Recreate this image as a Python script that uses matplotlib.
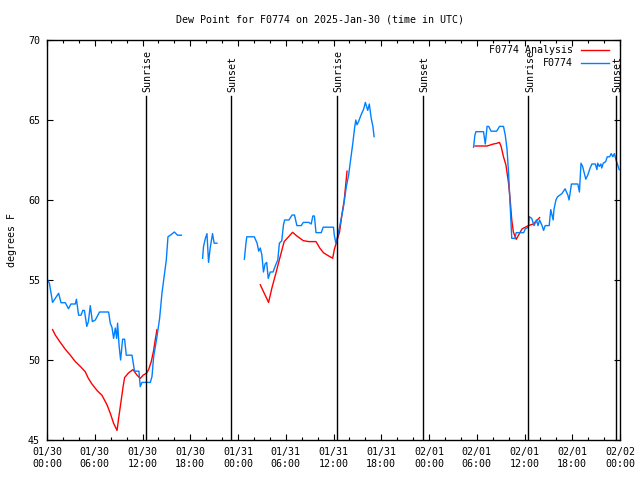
import numpy as np
import matplotlib
matplotlib.use("Agg")
import matplotlib.pyplot as plt
import matplotlib.ticker as ticker

# hours since 2025-01-30 00:00 UTC; nan marks a gap in the record
obs_hours = [0.08, 0.3, 0.5, 0.7, 1.04, 1.46, 1.76, 2.3, 2.7, 3.0, 3.56, 3.7,
             3.97, 4.27, 4.5, 4.7, 5.0, 5.2, 5.44, 5.7, 6.07, 6.28, 6.6, 7.74,
             7.95, 8.16, 8.37, 8.58, 8.75, 8.87, 9.05, 9.25, 9.5, 9.75, 9.96,
             10.68, 11.0, 11.55, 11.72, 11.93, 12.98, 13.19, 13.4, 13.82, 14.15,
             14.45, 14.74, 14.99, 15.2, 15.5, 16.0, 16.4, 16.9, np.nan,
             19.55, 19.67, 19.9, 20.1, 20.3, 20.5, 20.8, 21.0, 21.36, np.nan,
             24.8, 25.0, 25.1, 26.05, 26.4, 26.6, 26.8, 27.0, 27.2, 27.4, 27.6,
             27.8, 28.05, 28.4, 28.7, 29.0, 29.2, 29.5, 29.7, 29.85, 30.4, 30.8,
             31.1, 31.4, 31.95, 32.2, 32.9, 33.2, 33.4, 33.6, 33.8, 34.46, 34.7,
             36.0, 36.1, 36.3, 36.5, 36.76, 37.05, 37.26, 37.6, 37.9, 38.2,
             38.44, 38.65, 38.8, 38.95, 39.15, 39.45, 39.8, 40.0, 40.3, 40.5,
             40.74, 40.95, 41.1, np.nan,
             53.6, 53.77, 53.9, 54.85, 55.07, 55.3, 55.5, 55.8, 56.5, 56.86,
             57.36, 57.58, 57.8, 58.0, 58.2, 58.4, 58.8, 58.96, 59.9, 60.1, 60.5,
             60.6, 60.9, 61.2, 61.5, 61.7, 61.9, 62.2, 62.4, 62.6, 63.1, 63.3,
             63.6, 63.7, 63.95, 64.15, 64.7, 65.1, 65.45, 65.6, 65.9, 66.7, 66.9,
             67.1, 67.3, 67.5, 67.7, 67.95, 68.25, 68.47, 68.9, 69.1, 69.2, 69.4,
             69.6, 69.7, 69.9, 70.2, 70.4, 70.7, 70.9, 71.1, 71.3, 71.5, 71.7,
             71.9]
obs_dewpt = [55.0, 54.8, 54.2, 53.6, 53.85, 54.17, 53.58, 53.58, 53.2, 53.5,
             53.5, 53.8, 52.8, 52.8, 53.1, 53.1, 52.1, 52.4, 53.4, 52.4, 52.5,
             52.7, 53.0, 53.0, 52.3, 52.05, 51.35, 52.0, 51.35, 52.3, 50.94,
             50.0, 51.3, 51.3, 50.3, 50.3, 49.3, 49.3, 48.33, 48.6, 48.6, 48.96,
             50.2, 51.46, 52.6, 54.2, 55.3, 56.25, 57.7, 57.8, 58.0, 57.8, 57.8,
             np.nan,
             56.36, 57.1, 57.6, 57.9, 56.1, 56.98, 57.9, 57.3, 57.3, np.nan,
             56.3, 57.3, 57.7, 57.7, 57.3, 56.8, 57.0, 56.56, 55.5, 56.0, 56.1,
             55.1, 55.5, 55.5, 55.9, 56.25, 57.3, 57.45, 58.4, 58.75, 58.75,
             59.06, 59.06, 58.4, 58.4, 58.6, 58.6, 58.5, 59.0, 59.0, 57.96, 57.96,
             58.3, 58.3, 57.8, 57.3, 57.7, 58.3, 59.06, 59.6, 60.8, 61.56, 62.7,
             63.6, 64.5, 65.0, 64.7, 64.9, 65.3, 65.7, 66.1, 65.6, 66.0, 65.1,
             64.6, 63.96, np.nan,
             63.3, 64.06, 64.27, 64.27, 63.5, 64.6, 64.6, 64.3, 64.3, 64.6, 64.6,
             64.06, 63.2, 61.67, 59.6, 57.6, 57.6, 57.96, 57.96, 58.2, 58.3,
             58.96, 58.85, 58.4, 58.75, 58.4, 58.75, 58.4, 58.1, 58.4, 58.4, 59.4,
             58.75, 59.4, 60.0, 60.2, 60.4, 60.7, 60.3, 60.0, 61.0, 61.0, 60.5,
             62.3, 62.1, 61.7, 61.3, 61.56, 62.0, 62.25, 62.25, 61.9, 62.3, 62.1,
             62.25, 62.0, 62.3, 62.4, 62.7, 62.7, 62.9, 62.7, 62.9, 62.5, 62.2,
             61.9]

ana_hours = [0.7, 1.04, 1.67, 2.3, 2.93, 3.56, 4.18, 4.8, 5.2, 5.65, 6.28, 6.9,
             7.54, 7.95, 8.37, 8.8, 9.0, 9.3, 9.55, 9.75, 10.26, 10.8, 11.3,
             11.72, 12.1, 12.5, 12.77, 13.1, 13.4, 13.6, 13.82, np.nan,
             26.8, 27.3, 27.84, 28.26, 28.8, 29.3, 29.8, 30.35, 30.86, 31.4,
             32.2, 32.9, 33.8, 34.3, 34.75, 35.4, 35.9, 36.1, 36.4, 36.76, 37.05,
             37.35, 37.7, np.nan,
             53.8, 55.3, 56.1, 56.5, 56.86, 57.07, 57.36, 57.66, 58.0, 58.2,
             58.4, 58.6, 58.96, 59.25, 59.7, 60.5, 61.1, 61.9]
ana_dewpt = [51.9, 51.56, 51.1, 50.67, 50.3, 49.9, 49.6, 49.27, 48.85, 48.5,
             48.1, 47.8, 47.2, 46.67, 46.04, 45.6, 46.35, 47.4, 48.3, 48.9, 49.2,
             49.4, 49.06, 48.85, 49.06, 49.17, 49.4, 49.9, 50.6, 51.25, 51.9,
             np.nan,
             54.7, 54.17, 53.6, 54.5, 55.5, 56.46, 57.4, 57.7, 57.98, 57.75,
             57.46, 57.4, 57.4, 56.98, 56.7, 56.5, 56.36, 56.9, 57.4, 58.0, 59.06,
             60.0, 61.8, np.nan,
             63.375, 63.375, 63.5, 63.54, 63.6, 63.33, 62.7, 62.2, 61.04, 60.0,
             58.75, 58.0, 57.54, 57.8, 58.2, 58.4, 58.5, 58.9]

sun_hours = [12.4, 23.1, 36.45, 47.2, 60.5, 71.5]
sun_labels = ['Sunrise', 'Sunset', 'Sunrise', 'Sunset', 'Sunrise', 'Sunset']

tick_hours = list(range(0, 73, 6))
tick_labels = ['01/30\n00:00', '01/30\n06:00', '01/30\n12:00', '01/30\n18:00',
               '01/31\n00:00', '01/31\n06:00', '01/31\n12:00', '01/31\n18:00',
               '02/01\n00:00', '02/01\n06:00', '02/01\n12:00', '02/01\n18:00',
               '02/02\n00:00']

plt.rcParams['font.family'] = ['DejaVu Sans Mono']
plt.rcParams['font.size'] = 7.2

fig = plt.figure(figsize=(6.4, 4.8), dpi=100)
ax = fig.add_axes([47 / 640, 40 / 480, 573 / 640, 400 / 480])

ax.plot(ana_hours, ana_dewpt, color='#ff0000', linewidth=1.0)
ax.plot(obs_hours, obs_dewpt, color='#0080ff', linewidth=1.0)

# sunrise / sunset markers, label sitting on top of each line
line_top = 0.86
for hour, label in zip(sun_hours, sun_labels):
    ax.axvline(hour, ymin=0, ymax=line_top, color='black', linewidth=1.0)
    ax.text(hour + 0.2, 45 + 25 * (line_top + 0.01), label, rotation=90,
            ha='center', va='bottom')

ax.set_xlim(0, 72)
ax.set_ylim(45, 70)
ax.set_xticks(tick_hours)
ax.set_xticklabels(tick_labels, linespacing=1.25)
ax.xaxis.set_minor_locator(ticker.MultipleLocator(2))
ax.yaxis.set_major_locator(ticker.MultipleLocator(5))
ax.tick_params(which='both', direction='in', top=True, right=True,
               width=0.8, colors='black')
ax.tick_params(which='major', length=4, pad=5)
ax.tick_params(which='minor', length=2)
for spine in ax.spines.values():
    spine.set_linewidth(1.0)

ax.set_ylabel('degrees F', labelpad=8)
fig.suptitle('Dew Point for F0774 on 2025-Jan-30 (time in UTC)',
             y=1 - 20 / 480, va='center', fontsize=7.2)

# gnuplot style key: right aligned text, sample line after it
key_rows = [('F0774 Analysis', '#ff0000'), ('F0774', '#0080ff')]
for i, (name, colour) in enumerate(key_rows):
    y = 1 - (10 + 13 * i) / 400
    ax.text((573 - 47) / 573, y, name, transform=ax.transAxes,
            ha='right', va='center')
    ax.plot([(581 - 47) / 573, (609 - 47) / 573], [y, y], color=colour,
            linewidth=1.0, transform=ax.transAxes)

fig.savefig('out.png', dpi=100)
